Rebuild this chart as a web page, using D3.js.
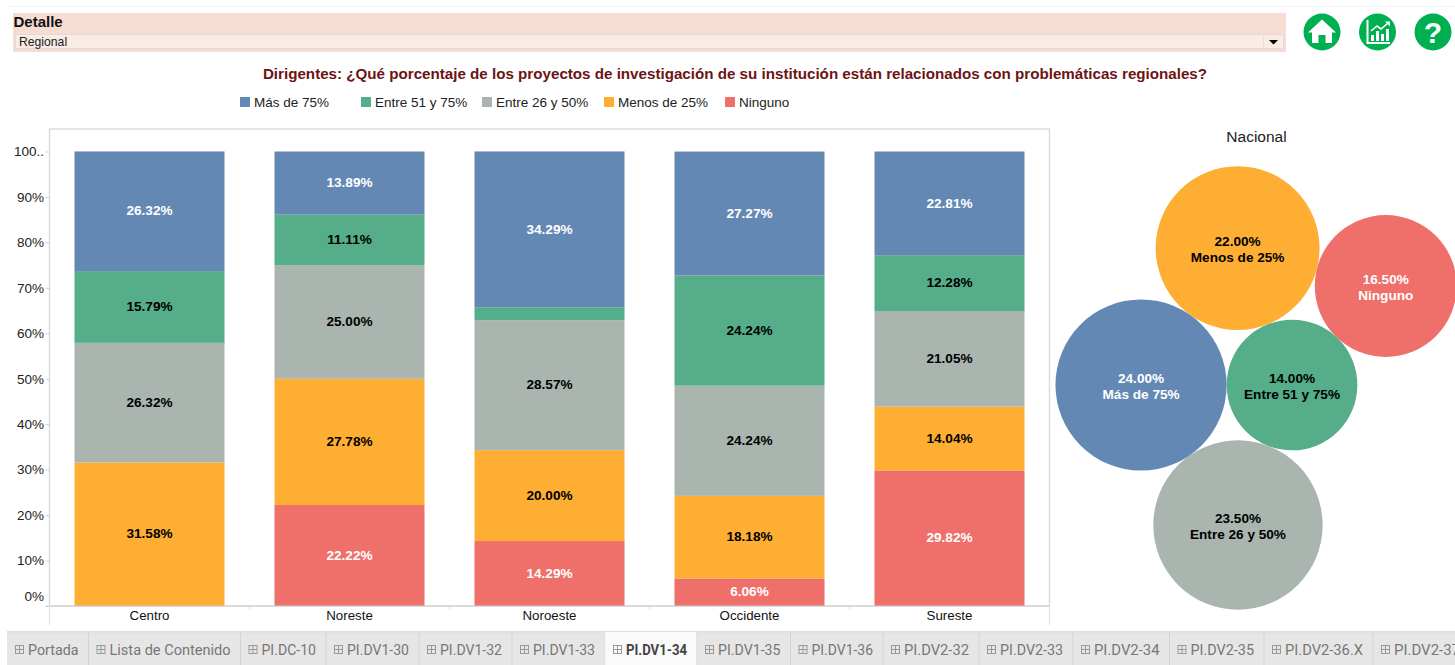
<!DOCTYPE html>
<html><head><meta charset="utf-8">
<script src="https://cdn.jsdelivr.net/npm/d3@7"></script>
<style>
html,body{margin:0;padding:0;background:#fff;overflow:hidden}
svg{display:block}
text{font-family:"Liberation Sans",Arial,sans-serif}
</style></head><body><svg id="c" width="1455" height="665"></svg>
<script>
// ---- data ----
const regions = ["Centro","Noreste","Noroeste","Occidente","Sureste"];
const levels = ["Más de 75%","Entre 51 y 75%","Entre 26 y 50%","Menos de 25%","Ninguno"];
const masDe75 = [26.32,13.89,34.29,27.27,22.81];
const entre51y75 = [15.79,11.11,2.86,24.24,12.28];
const entre26y50 = [26.32,25.00,28.57,24.24,21.05];
const menosDe25 = [31.58,27.78,20.00,18.18,14.04];
const ninguno = [0,22.22,14.29,6.06,29.82];
const nacional = [24.00,14.00,23.50,22.00,16.50];
const yTicks = [0,10,20,30,40,50,60,70,80,90,100];
const tabs = ["Portada","Lista de Contenido","PI.DC-10","PI.DV1-30","PI.DV1-32","PI.DV1-33","PI.DV1-34","PI.DV1-35","PI.DV1-36","PI.DV2-32","PI.DV2-33","PI.DV2-34","PI.DV2-35","PI.DV2-36.X","PI.DV2-37"];
const colors = ["#6388b4","#55ad89","#a9b5ae","#ffae34","#ef6f6a"];
const labelColors = ["#fff","#000","#000","#000","#fff"];
const bubbleLabelColors = ["#fff","#000","#000","#000","#fff"];
const series = [masDe75,entre51y75,entre26y50,menosDe25,ninguno];

const svg = d3.select("#c");
const sans = '"Liberation Sans",Arial,sans-serif';

// ---- header ----
svg.append("rect").attr("x",7).attr("y",6).attr("width",1448).attr("height",1).attr("fill","#f3f3f3");
svg.append("rect").attr("x",13).attr("y",13).attr("width",1273).attr("height",39).attr("fill","#f6dcd2");
svg.append("text").attr("x",13.5).attr("y",27).attr("font-size",15).attr("font-weight","bold").attr("fill","#111").text("Detalle");
svg.append("rect").attr("x",15.5).attr("y",34.5).attr("width",1268).attr("height",14).attr("fill","#f9ebe5").attr("stroke","#dedbd9");
svg.append("line").attr("x1",1263.5).attr("x2",1263.5).attr("y1",35).attr("y2",48).attr("stroke","#e6e0dc");
svg.append("path").attr("d","M1269 40h9l-4.5 4.5z").attr("fill","#000");
svg.append("text").attr("x",19).attr("y",46).attr("font-size",12.2).attr("fill","#222").text("Regional");
svg.append("text").attr("x",735).attr("y",78.5).attr("text-anchor","middle").attr("font-size",15.17).attr("font-weight","bold").attr("fill","#6b1414")
  .text("Dirigentes: ¿Qué porcentaje de los proyectos de investigación de su institución están relacionados con problemáticas regionales?");

// icons
const G = "#00b050";
const icons = svg.append("g");
function circ(x){ icons.append("circle").attr("cx",x).attr("cy",32).attr("r",18.5).attr("fill",G); }
circ(1322); circ(1377.5); circ(1433);
icons.append("path").attr("fill","#fff").attr("d","M1322 19.5L1336 32.5L1332 32.5L1332 43L1325.5 43L1325.5 35L1318.5 35L1318.5 43L1312 43L1312 32.5L1308 32.5Z");
icons.append("path").attr("fill","none").attr("stroke","#fff").attr("stroke-width",2).attr("d","M1367.5 20V43H1390");
icons.append("path").attr("fill","none").attr("stroke","#fff").attr("stroke-width",1.6).attr("d","M1371 31L1377 26L1381 29L1388 23");
icons.append("path").attr("fill","#fff").attr("d","M1385 21.5h5v5zM1371 35h3v6h-3zM1376 31h3v10h-3zM1381 34h3v7h-3zM1386 29h3v12h-3z");
icons.append("text").attr("x",1433).attr("y",42.5).attr("text-anchor","middle").attr("font-size",30).attr("font-weight","bold").attr("fill","#fff").text("?");

// ---- legend ----
const legendX = [240,361,482,604,725];
const lg = svg.append("g").selectAll("g").data(levels).join("g").attr("transform",(d,i)=>`translate(${legendX[i]},97)`);
lg.append("rect").attr("width",10).attr("height",10).attr("fill",(d,i)=>colors[i]);
lg.append("text").attr("x",14).attr("y",10).attr("font-size",13.5).attr("fill","#222").text(d=>d);

// ---- stacked bars ----
const x = d3.scaleBand().domain(regions).range([49.5,1049.5]).paddingInner(0.25).paddingOuter(0.125);
const y = d3.scaleLinear().domain([0,100]).range([606,151.5]);
svg.append("rect").attr("x",49.5).attr("y",129).attr("width",1000).attr("height",477).attr("fill","none").attr("stroke","#d8d8d8").attr("stroke-width",1.3);

const rows = regions.map((r,i)=>{const o={region:r}; levels.forEach((l,j)=>o[l]=series[j][i]); return o;});
const stack = d3.stack().keys(levels.slice().reverse())(rows);
const gBars = svg.append("g");
stack.forEach(s=>{
  const j = levels.indexOf(s.key);
  const g = gBars.append("g");
  g.selectAll("rect").data(s).join("rect")
    .attr("x",d=>x(d.data.region)).attr("width",x.bandwidth())
    .attr("y",d=>y(d[1])).attr("height",d=>y(d[0])-y(d[1])).attr("fill",colors[j]);
  g.selectAll("text").data(s.filter(d=>d[1]-d[0]>=5)).join("text")
    .attr("x",d=>x(d.data.region)+x.bandwidth()/2).attr("y",d=>y((d[0]+d[1])/2)+4.2)
    .attr("text-anchor","middle").attr("font-size",13.6).attr("font-weight","bold").attr("fill",labelColors[j])
    .text(d=>(d[1]-d[0]).toFixed(2)+"%");
});

// axes
const yAxis = d3.axisLeft(y).tickValues(yTicks).tickSize(4).tickFormat(d=>d===100?"100..":d+"%");
const ya = svg.append("g").attr("transform","translate(49.5,0)").call(yAxis);
ya.select(".domain").remove();
ya.selectAll("line").attr("stroke","#d0d0d0");
ya.selectAll("text").attr("font-family",sans).attr("font-size",13.5).attr("fill","#222").attr("x",-5.5).attr("text-anchor","end");
ya.selectAll(".tick").filter(d=>d===0).select("text").attr("dy","-0.38em");
const xa = svg.append("g").attr("transform","translate(0,606)").call(d3.axisBottom(x).tickSize(0));
xa.select(".domain").attr("stroke","#cfcfcf").attr("d","M46,0H1049.5");
xa.selectAll("text").attr("font-family",sans).attr("font-size",13.3).attr("fill","#111").attr("y",5);
svg.append("g").selectAll("line").data(regions.slice(1)).join("line")
  .attr("x1",d=>x(d)-x.step()*0.125).attr("x2",d=>x(d)-x.step()*0.125).attr("y1",606).attr("y2",609).attr("stroke","#d8d8d8");
svg.append("line").attr("x1",49.5).attr("x2",49.5).attr("y1",606).attr("y2",625).attr("stroke","#e0e0e0");
svg.append("line").attr("x1",1049.5).attr("x2",1049.5).attr("y1",606).attr("y2",625).attr("stroke","#e0e0e0");

// ---- bubbles: each one is placed tangent to two already placed, from its radius ----
svg.append("text").attr("x",1256.5).attr("y",142).attr("text-anchor","middle").attr("font-size",15.5).attr("fill","#222").text("Nacional");
const rScale = d3.scaleSqrt().domain([0,100]).range([0,174.7]);
const nodes = levels.map((l,i)=>({i,label:l,r:rScale(nacional[i])}));
const [nMas,n51,n26,nMenos,nNing] = nodes;
function tangent(n,A,B,side){
  const d1=A.r+n.r, d2=B.r+n.r, dx=B.px-A.px, dy=B.py-A.py, d=Math.hypot(dx,dy);
  const a=(d1*d1-d2*d2+d*d)/(2*d), h=Math.sqrt(Math.max(0,d1*d1-a*a));
  n.px=A.px+a*dx/d-side*h*dy/d;
  n.py=A.py+a*dy/d+side*h*dx/d;
}
n51.px=1292; n51.py=385;
nMas.px=n51.px-n51.r-nMas.r; nMas.py=n51.py;
tangent(nMenos,n51,nMas,1);
tangent(n26,n51,nMas,-1);
tangent(nNing,n51,nMenos,1);
const b = svg.append("g").selectAll("g").data(nodes).join("g").attr("transform",d=>`translate(${d.px},${d.py})`);
b.append("circle").attr("r",d=>d.r).attr("fill",d=>colors[d.i]);
b.append("text").attr("text-anchor","middle").attr("y",-2).attr("font-size",13.6).attr("font-weight","bold").attr("fill",d=>bubbleLabelColors[d.i]).text(d=>nacional[d.i].toFixed(2)+"%");
b.append("text").attr("text-anchor","middle").attr("y",14).attr("font-size",13.6).attr("font-weight","bold").attr("fill",d=>bubbleLabelColors[d.i]).text(d=>d.label.replace(" y "," y "));

// ---- tabs ----
const tabEdges = [7,88.5,240.5,326,419,512,605,697,790.5,883,979,1073,1169.5,1264,1373,1470];
svg.append("rect").attr("x",7).attr("y",632).attr("width",1448).attr("height",33).attr("fill","#e6e6e6");
svg.append("rect").attr("x",7).attr("y",631).attr("width",1448).attr("height",1.5).attr("fill","#dcdcdc");
const tg = svg.append("g").selectAll("g").data(tabs).join("g").attr("transform",(d,i)=>`translate(${tabEdges[i]},632)`);
tg.append("rect").attr("width",(d,i)=>tabEdges[i+1]-tabEdges[i]).attr("height",33).attr("fill",(d,i)=>i===6?"#fafafa":"none");
tg.append("line").attr("x1",(d,i)=>tabEdges[i+1]-tabEdges[i]).attr("x2",(d,i)=>tabEdges[i+1]-tabEdges[i]).attr("y1",0).attr("y2",33).attr("stroke","#d4d4d4");
tg.append("rect").attr("x",8.5).attr("y",13.5).attr("width",8).attr("height",8).attr("fill","none").attr("stroke","#999");
tg.append("path").attr("d","M12.5 13.5v8M8.5 17.5h8").attr("stroke","#999").attr("fill","none");
tg.append("text").attr("x",21).attr("y",23).attr("font-size",14.5).attr("font-weight",(d,i)=>i===6?"bold":"normal").attr("fill",(d,i)=>i===6?"#444":"#777")
  .style("font-family","Roboto").text(d=>d)
  .attr("textLength",(d,i)=>tabEdges[i+1]-tabEdges[i]-31).attr("lengthAdjust","spacingAndGlyphs");
</script></body></html>
